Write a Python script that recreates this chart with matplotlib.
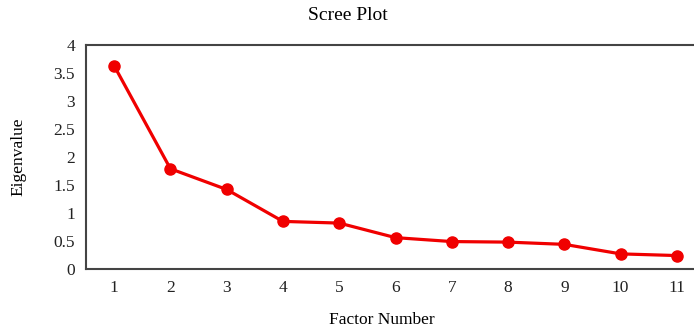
import matplotlib
matplotlib.use("Agg")
import matplotlib.pyplot as plt

factors = [1, 2, 3, 4, 5, 6, 7, 8, 9, 10, 11]
eigenvalues = [3.63, 1.79, 1.42, 0.85, 0.82, 0.56, 0.49, 0.48, 0.44, 0.27, 0.24]
yticks = [0, 0.5, 1, 1.5, 2, 2.5, 3, 3.5, 4]
ytick_labels = ["0", "0.5", "1", "1.5", "2", "2.5", "3", "3.5", "4"]

plt.rcParams['font.family'] = ['Liberation Serif', 'DejaVu Serif']

W, H = 694, 333
fig = plt.figure(figsize=(W / 100, H / 100), dpi=100)
left, right, top, bottom = 86, 705, 45, 269
ax = fig.add_axes([left / W, (H - bottom) / H, (right - left) / W, (bottom - top) / H])

ax.plot(factors, eigenvalues, color='#f00000', lw=2.3, marker='o', ms=8, zorder=3)
ax.set_xlim(0.5, 11.5)
ax.set_ylim(0, 4)
ax.set_xticks(factors)
ax.set_xticklabels([str(f) for f in factors], fontsize=12.5)
ax.set_yticks(yticks)
ax.set_yticklabels(ytick_labels, fontsize=12.5)
ax.tick_params(length=0, pad=8, colors='#222222')
for s in ax.spines.values():
    s.set_linewidth(1.5)
    s.set_color('#444444')

fig.text(348 / W, 1 - 16 / H, "Scree Plot", ha='center', va='center', fontsize=14)
fig.text(382 / W, 1 - 320 / H, "Factor Number", ha='center', va='center', fontsize=12.5)
fig.text(18 / W, 1 - 157 / H, "Eigenvalue", ha='center', va='center', rotation=90, fontsize=12.5)

fig.savefig("out.png", dpi=100)
